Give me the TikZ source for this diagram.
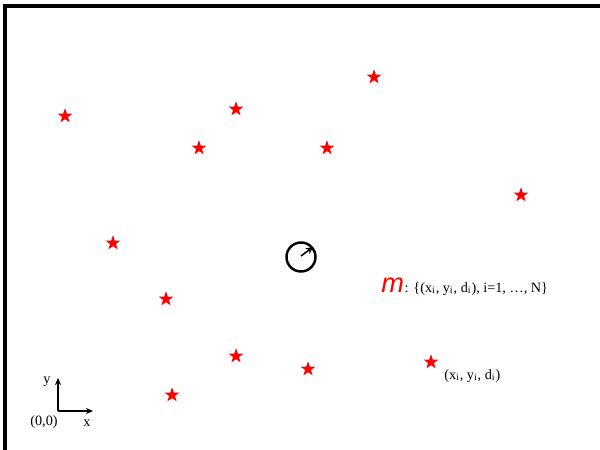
\documentclass[tikz,border=0pt]{standalone}
\usepackage{fontspec}
\setmainfont{Liberation Serif}
\newfontfamily\arialf{Liberation Sans}
\usetikzlibrary{shapes.geometric,arrows.meta}
\begin{document}
\begin{tikzpicture}[x=0.02cm,y=-0.02cm,
  redstar/.style={star,star points=5,star point ratio=2.5,fill=red,draw=none,minimum size=0.31cm,inner sep=0pt},
  lbl/.style={font=\fontsize{8.1}{10}\selectfont,inner sep=0pt}]
\useasboundingbox (0,0) rectangle (600,450);
\coordinate (tl) at (5,6);
\coordinate (tr) at (600,6);
\coordinate (bl) at (5,450);
\draw[line width=1.8pt] (tr) -- (tl) -- (bl);
% stars
\node[redstar] (s1) at (65,116) {};
\node[redstar] (s2) at (236,109) {};
\node[redstar] (s3) at (374,77) {};
\node[redstar] (s4) at (199,148) {};
\node[redstar] (s5) at (327,148) {};
\node[redstar] (s6) at (521,195) {};
\node[redstar] (s7) at (113,243) {};
\node[redstar] (s8) at (166,299) {};
\node[redstar] (s9) at (236,356) {};
\node[redstar] (s10) at (308,369) {};
\node[redstar] (s11) at (431,362) {};
\node[redstar] (s12) at (172,395) {};
% circle robot
\node[circle,draw,line width=1.4pt,minimum size=0.58cm,inner sep=0pt] (c) at (301,257) {};
\coordinate (ctr) at (301,256);
\coordinate (tip) at (313,247);
\draw[line width=0.9pt,-{Stealth[length=4pt,width=4pt]}] (ctr) -- (tip);
% map label
\node[anchor=base west,inner sep=0pt] (m) at (381,292) {\textcolor{red}{\arialf\itshape\fontsize{15.5}{17}\selectfont m}};
\node[lbl,anchor=base west] (mset) at (m.base east) {: \{(x\textsubscript{i}, y\textsubscript{i}, d\textsubscript{i}), i=1, …, N\}};
\node[lbl,anchor=base west] (obs) at (444,379) {(x\textsubscript{i}, y\textsubscript{i}, d\textsubscript{i})};
% axes
\coordinate (o) at (58,411);
\coordinate (ya) at (58,378);
\coordinate (xa) at (93,411);
\draw[line width=0.9pt,-{Stealth[length=4pt,width=3.5pt]}] (o) -- (ya);
\draw[line width=0.9pt,-{Stealth[length=4pt,width=3.5pt]}] (o) -- (xa);
\node[lbl] (ylab) at (47,382) {y};
\node[lbl] (xlab) at (87,423) {x};
\node[lbl] (olab) at (44,422) {(0,0)};
\end{tikzpicture}
\end{document}
